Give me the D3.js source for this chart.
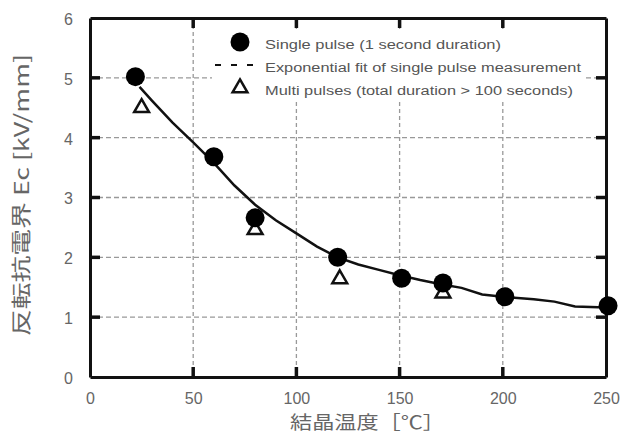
<!DOCTYPE html>
<html>
<head>
<meta charset="utf-8">
<script src="https://cdn.jsdelivr.net/npm/d3@7"></script>
<style>
  body { margin: 0; background: #fff; }
  text { font-family: "Liberation Sans", Arial, sans-serif; }
</style>
</head>
<body>
<svg id="chart" width="622" height="434"></svg>
<script>
// data
const singleX = [22, 60, 80, 120, 151, 171, 201, 251];
const singleY = [5.02, 3.68, 2.66, 2.0, 1.65, 1.57, 1.34, 1.19];

const multiX = [25, 80, 121, 171];
const multiY = [4.5, 2.46, 1.64, 1.40];

const fitX = [24, 30, 40, 50, 60, 70, 80, 90, 100, 110, 120, 130, 140, 150, 160, 170, 180, 190, 200, 215, 225, 235, 250];
const fitY = [4.85, 4.62, 4.25, 3.92, 3.58, 3.2, 2.88, 2.62, 2.4, 2.18, 2.0, 1.88, 1.79, 1.7, 1.62, 1.55, 1.49, 1.38, 1.34, 1.3, 1.26, 1.18, 1.16];

const xTicks = [0, 50, 100, 150, 200, 250];
const yTicks = [0, 1, 2, 3, 4, 5, 6];

const legendLabels = [
  "Single pulse (1 second duration)",
  "Exponential fit of single pulse measurement",
  "Multi pulses (total duration > 100 seconds)"
];

let svg = d3.select("#chart");
const margin = { top: 18, right: 16, bottom: 57, left: 90 };
const w = 622 - margin.left - margin.right;
const h = 434 - margin.top - margin.bottom;
let g = svg.append("g").attr("transform", "translate(" + margin.left + "," + margin.top + ")");

let x = d3.scaleLinear().domain([0, 250]).range([0, w]);
let y = d3.scaleLinear().domain([0, 6]).range([h, 0]);

// grid
g.selectAll("line.vgrid").data(xTicks.slice(1, -1))
  .join("line")
  .attr("class", "vgrid")
  .attr("x1", d => x(d)).attr("x2", d => x(d))
  .attr("y1", 0).attr("y2", h)
  .attr("stroke", "#999").attr("stroke-width", 1.3)
  .attr("stroke-dasharray", "4,3");

g.selectAll("line.hgrid").data(yTicks.slice(1, -1))
  .join("line")
  .attr("class", "hgrid")
  .attr("x1", 0).attr("x2", w)
  .attr("y1", d => y(d)).attr("y2", d => y(d))
  .attr("stroke", "#999").attr("stroke-width", 1.3)
  .attr("stroke-dasharray", "5,3");

// axes (labels + frame)
const fmt = d3.format("d");
let xAxis = g.append("g").attr("transform", "translate(0," + h + ")")
  .call(d3.axisBottom(x).tickValues(xTicks).tickSize(0).tickPadding(16).tickFormat(fmt));
let xTop = g.append("g")
  .call(d3.axisTop(x).tickValues(xTicks).tickSize(0).tickFormat(""));
let yAxis = g.append("g")
  .call(d3.axisLeft(y).tickValues(yTicks).tickSize(0).tickPadding(17).tickFormat(fmt));
let yRight = g.append("g").attr("transform", "translate(" + w + ",0)")
  .call(d3.axisRight(y).tickValues(yTicks).tickSize(0).tickFormat(""));

[xAxis, xTop, yAxis, yRight].forEach(a => {
  a.select(".domain").attr("stroke", "#111").attr("stroke-width", 3);
  a.selectAll(".tick text")
    .attr("fill", "#666")
    .style("font-size", "16px")
    .style("font-family", "'Liberation Sans', Arial, sans-serif");
});
yAxis.selectAll(".tick text").attr("dy", "0.4em");

// inward tick marks on all four sides
const tl = 10;
let ticks = g.append("g").attr("stroke", "#111").attr("stroke-width", 3.5);
xTicks.slice(1, -1).forEach(d => {
  ticks.append("line").attr("x1", x(d)).attr("x2", x(d)).attr("y1", h).attr("y2", h - tl);
  ticks.append("line").attr("x1", x(d)).attr("x2", x(d)).attr("y1", 0).attr("y2", tl);
});
yTicks.slice(1, -1).forEach(d => {
  ticks.append("line").attr("x1", 0).attr("x2", tl).attr("y1", y(d)).attr("y2", y(d));
  ticks.append("line").attr("x1", w).attr("x2", w - tl).attr("y1", y(d)).attr("y2", y(d));
});

// fit curve
let line = d3.line()
  .x(d => x(d[0]))
  .y(d => y(d[1]))
  .curve(d3.curveLinear);
g.append("path")
  .datum(fitX.map((d, i) => [d, fitY[i]]))
  .attr("fill", "none")
  .attr("stroke", "#111")
  .attr("stroke-width", 2.5)
  .attr("d", line);

// triangles (multi pulses)
let tri = d3.symbol().type(d3.symbolTriangle).size(95);
g.selectAll("path.tri").data(multiX.map((d, i) => [d, multiY[i]]))
  .join("path")
  .attr("class", "tri")
  .attr("d", tri)
  .attr("transform", d => "translate(" + x(d[0]) + "," + y(d[1]) + ")")
  .attr("fill", "#fff")
  .attr("stroke", "#111")
  .attr("stroke-width", 2.5);

// circles (single pulse)
g.selectAll("circle.pt").data(singleX.map((d, i) => [d, singleY[i]]))
  .join("circle")
  .attr("class", "pt")
  .attr("cx", d => x(d[0]))
  .attr("cy", d => y(d[1]))
  .attr("r", 9.5)
  .attr("fill", "#000");

// legend
let leg = svg.append("g");
leg.append("rect")
  .attr("x", 212).attr("y", 30).attr("width", 372).attr("height", 70)
  .attr("fill", "#fff");
leg.append("circle").attr("cx", 240).attr("cy", 42).attr("r", 9.5).attr("fill", "#000");
leg.append("line")
  .attr("x1", 215).attr("x2", 262).attr("y1", 65).attr("y2", 65)
  .attr("stroke", "#111").attr("stroke-width", 2).attr("stroke-dasharray", "6,10");
leg.append("path")
  .attr("d", tri)
  .attr("transform", "translate(240,88)")
  .attr("fill", "#fff").attr("stroke", "#111").attr("stroke-width", 2.5);
const legWidths = [236, 316, 308];
leg.selectAll("text").data(legendLabels)
  .join("text")
  .attr("x", 265)
  .attr("y", (d, i) => 49 + i * 23)
  .attr("fill", "#555")
  .style("font-size", "12.5px")
  .attr("textLength", (d, i) => legWidths[i])
  .attr("lengthAdjust", "spacingAndGlyphs")
  .text(d => d);

// axis titles
svg.append("text")
  .attr("transform", "translate(29,195) rotate(-90)")
  .attr("text-anchor", "middle")
  .attr("fill", "#666")
  .style("font-size", "20px")
  .style("font-family", "'Noto Sans CJK JP', sans-serif")
  .attr("textLength", 282)
  .attr("lengthAdjust", "spacingAndGlyphs")
  .text("反転抗電界 Ec [kV/mm]");

svg.append("text")
  .attr("x", 290)
  .attr("y", 429)
  .attr("fill", "#666")
  .style("font-size", "18px")
  .style("font-family", "'Noto Sans CJK JP', sans-serif")
  .attr("textLength", 155)
  .attr("lengthAdjust", "spacingAndGlyphs")
  .text("結晶温度［℃］");
</script>
</body>
</html>
